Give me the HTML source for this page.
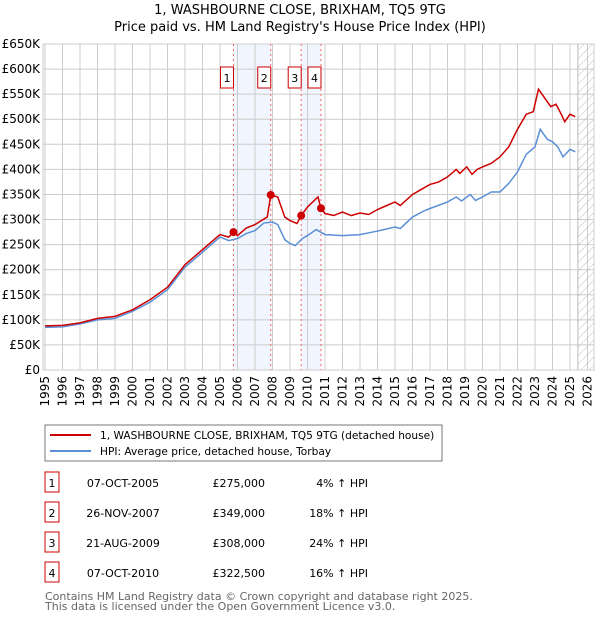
<!DOCTYPE html>
<html><head><meta charset="utf-8"><style>
body{margin:0;background:#fff;font-family:"Liberation Sans","DejaVu Sans",sans-serif;}
svg text{font-family:"DejaVu Sans","Liberation Sans",sans-serif;}
</style></head><body>
<svg id="c" width="600" height="620" xmlns="http://www.w3.org/2000/svg">
<text x="300" y="14" text-anchor="middle" font-size="13">1, WASHBOURNE CLOSE, BRIXHAM, TQ5 9TG</text>
<text x="300" y="31" text-anchor="middle" font-size="13">Price paid vs. HM Land Registry's House Price Index (HPI)</text>
<g id="plot"></g>
<g>
<rect x="45" y="425" width="397" height="36" fill="#fff" stroke="#777"/>
<line x1="50" y1="435" x2="91" y2="435" stroke="#cc0000" stroke-width="2"/>
<text x="100" y="439" font-size="10.6">1, WASHBOURNE CLOSE, BRIXHAM, TQ5 9TG (detached house)</text>
<line x1="50" y1="451" x2="91" y2="451" stroke="#5b8fd6" stroke-width="2"/>
<text x="100" y="455" font-size="10.6">HPI: Average price, detached house, Torbay</text>
</g>
<g id="table" font-size="11"></g>
<text x="45" y="600" font-size="11" fill="#666">Contains HM Land Registry data © Crown copyright and database right 2025.</text>
<text x="45" y="610" font-size="11" fill="#666">This data is licensed under the Open Government Licence v3.0.</text>
</svg>
<script>
const yTicks=[0,50,100,150,200,250,300,350,400,450,500,550,600,650];
const years=[1995,1996,1997,1998,1999,2000,2001,2002,2003,2004,2005,2006,2007,2008,2009,2010,2011,2012,2013,2014,2015,2016,2017,2018,2019,2020,2021,2022,2023,2024,2025,2026];
const hpiT=[1995,1996,1997,1998,1999,2000,2001,2002,2003,2004,2005,2005.5,2006,2006.5,2007,2007.5,2008,2008.3,2008.7,2009,2009.3,2009.7,2010,2010.5,2011,2012,2013,2014,2015,2015.3,2016,2016.7,2017,2018,2018.5,2018.8,2019.3,2019.6,2020,2020.5,2021,2021.5,2022,2022.5,2023,2023.3,2023.7,2024,2024.3,2024.6,2025,2025.3];
const hpiV=[85,86,92,100,103,117,135,160,205,235,265,258,262,272,278,293,295,290,260,252,248,262,268,280,270,268,270,277,285,282,305,318,322,335,345,337,350,338,345,355,355,372,395,430,445,480,460,455,445,425,440,435];
const ppT=[1995,1996,1997,1998,1999,2000,2001,2002,2003,2004,2005,2005.5,2005.77,2006,2006.5,2007,2007.7,2007.9,2008.3,2008.7,2009,2009.4,2009.64,2010,2010.6,2010.77,2011,2011.5,2012,2012.5,2013,2013.5,2014,2015,2015.3,2016,2016.5,2017,2017.5,2018,2018.5,2018.7,2019.1,2019.4,2019.7,2020,2020.5,2021,2021.5,2022,2022.5,2022.9,2023.2,2023.6,2023.9,2024.2,2024.5,2024.7,2025,2025.3];
const ppV=[88,89,94,103,107,120,140,165,210,240,270,265,275,268,283,290,305,349,345,305,298,292,308,325,345,322,312,308,315,308,313,310,320,335,328,350,360,370,375,385,400,392,405,390,400,405,412,425,445,480,510,515,560,540,525,530,510,495,510,505];
const saleT=[2005.77,2007.9,2009.64,2010.77];
const saleV=[275,349,308,322.5];
const saleLabels=["1","2","3","4"];
const saleDates=["07-OCT-2005","26-NOV-2007","21-AUG-2009","07-OCT-2010"];
const salePrices=["£275,000","£349,000","£308,000","£322,500"];
const saleHpi=["4% ↑ HPI","18% ↑ HPI","24% ↑ HPI","16% ↑ HPI"];
const NS="http://www.w3.org/2000/svg";
const L=43,R=594,T=44,B=370;
const x=t=>45+(t-1995)*17.5;
const y=v=>B-(v/650)*(B-T);
const g=document.getElementById('plot');
function mk(tag,a,p){const e=document.createElementNS(NS,tag);for(const k in a)e.setAttribute(k,a[k]);(p||g).appendChild(e);return e;}
for(let i=0;i<2;i++){const a=saleT[i*2],b=saleT[i*2+1];
const r=mk('rect',{x:x(a),y:T,width:x(b)-x(a),height:B-T,fill:'#f1f5fd'});

}
yTicks.forEach(v=>{const l=mk('line',{x1:L,x2:R,y1:y(v),y2:y(v),stroke:'#ccc'});


const t=mk('text',{x:40,y:y(v)+4,'text-anchor':'end','font-size':12});t.textContent='£'+(v?v+'K':'0');

});
years.forEach(yr=>{const l=mk('line',{x1:x(yr),x2:x(yr),y1:T,y2:B,stroke:'#ccc'});


const t=mk('text',{x:0,y:0,'text-anchor':'end','font-size':12,transform:`translate(${x(yr)+4},${B+6}) rotate(-90)`});t.textContent=yr;

});
const defs=mk('defs',{});
const pat=mk('pattern',{id:'h',width:6,height:6,patternUnits:'userSpaceOnUse',patternTransform:'rotate(45)'},defs);
mk('line',{x1:0,y1:0,x2:0,y2:6,stroke:'#bbb'},pat);
const hr=mk('rect',{x:x(2025.45),y:T,width:R-x(2025.45),height:B-T,fill:'url(#h)',stroke:'#bbb'});


mk('rect',{x:L,y:T,width:R-L,height:B-T,fill:'none',stroke:'#ccc'});
saleT.forEach((t,i)=>{const l=mk('line',{x1:x(t),x2:x(t),y1:T,y2:B,stroke:'#e66','stroke-dasharray':'2,3'});


const bx=mk('rect',{x:x(t)-13,y:67,width:13,height:21,fill:'#fff',stroke:'#cc0000'});


const tx=mk('text',{x:x(t)-6.5,y:82,'text-anchor':'middle','font-size':11});tx.textContent=saleLabels[i];

});
const hp=mk('polyline',{points:hpiT.map((t,i)=>x(t)+','+y(hpiV[i])).join(' '),fill:'none',stroke:'#5b8fd6','stroke-width':1.5});


const pp=mk('polyline',{points:ppT.map((t,i)=>x(t)+','+y(ppV[i])).join(' '),fill:'none',stroke:'#cc0000','stroke-width':1.5});


saleT.forEach((t,i)=>{const c=mk('circle',{cx:x(t),cy:y(saleV[i]),r:4,fill:'#cc0000'});

});
const tb=document.getElementById('table');
saleT.forEach((t,i)=>{const yy=483+i*30;
const b=mk('rect',{x:45,y:yy-11,width:14,height:20,fill:'#fff',stroke:'#cc0000'},tb);


const cells=[[52,saleLabels[i],'middle'],[123,saleDates[i],'middle'],[265,salePrices[i],'end'],[368,saleHpi[i],'end']];
cells.forEach(c=>{const e=mk('text',{x:c[0],y:yy+4,'text-anchor':c[2]},tb);e.textContent=c[1];

});});
</script>
</body></html>
